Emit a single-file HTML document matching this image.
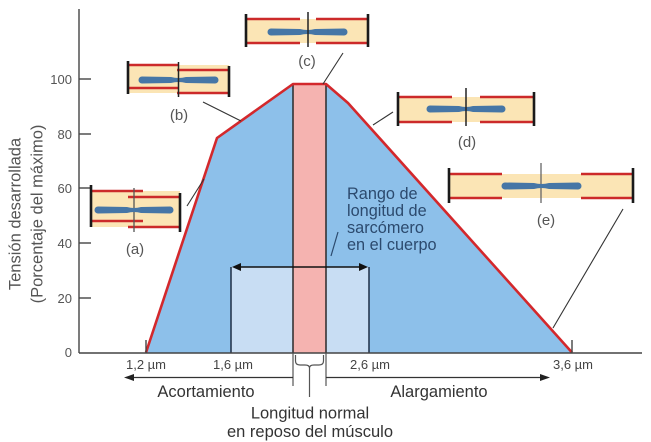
<!DOCTYPE html>
<html><head><meta charset="utf-8"><style>
html,body{margin:0;padding:0;background:#fff;}
svg{display:block;}
text{font-family:"Liberation Sans",Arial,sans-serif;}
</style></head><body>
<svg width="651" height="442" viewBox="0 0 651 442" xmlns="http://www.w3.org/2000/svg">
<rect width="651" height="442" fill="#fff"/>
<!-- blue area -->
<polygon points="146,352.5 217,138 293,84 326,84 348,103 572,352.5" fill="#8dc0ea"/>
<!-- light rect -->
<rect x="231" y="267" width="138" height="85.5" fill="#c8ddf3"/>
<!-- pink band -->
<rect x="293" y="84" width="33" height="268.5" fill="#f5b3b0"/>
<line x1="293" y1="84" x2="293" y2="353" stroke="#2a2a2a" stroke-width="1.5"/>
<line x1="326" y1="84" x2="326" y2="353" stroke="#2a2a2a" stroke-width="1.5"/>
<line x1="231" y1="267" x2="231" y2="353" stroke="#1d2d44" stroke-width="1.5"/>
<line x1="369" y1="267" x2="369" y2="353" stroke="#1d2d44" stroke-width="1.5"/>
<!-- double arrow -->
<line x1="236" y1="267" x2="364" y2="267" stroke="#111" stroke-width="1.6"/>
<polygon points="232,267 241,263 241,271" fill="#111"/>
<polygon points="368,267 359,263 359,271" fill="#111"/>
<!-- red curve -->
<polyline points="146,352.5 217,138 293,84 326,84 348,103 572,352.5" fill="none" stroke="#d3282c" stroke-width="2.6" stroke-linejoin="round"/>
<!-- axes -->
<line x1="79" y1="9" x2="79" y2="353" stroke="#444" stroke-width="1.4"/>
<line x1="79" y1="353" x2="642" y2="353" stroke="#444" stroke-width="1.4"/>
<g stroke="#444" stroke-width="1.4">
<line x1="79" y1="79" x2="91" y2="79"/>
<line x1="79" y1="134" x2="91" y2="134"/>
<line x1="79" y1="188" x2="91" y2="188"/>
<line x1="79" y1="243" x2="91" y2="243"/>
<line x1="79" y1="298" x2="91" y2="298"/>
<line x1="146" y1="340" x2="146" y2="353"/>
<line x1="572" y1="340" x2="572" y2="353"/>
</g>
<g font-size="13" fill="#555" text-anchor="end">
<text x="72" y="84">100</text>
<text x="72" y="139">80</text>
<text x="72" y="193">60</text>
<text x="72" y="248">40</text>
<text x="72" y="303">20</text>
<text x="72" y="357">0</text>
</g>
<g font-size="16.5" fill="#555" text-anchor="middle">
<text transform="translate(20.5,214) rotate(-90)">Tensión desarrollada</text>
<text transform="translate(42.5,214) rotate(-90)">(Porcentaje del máximo)</text>
</g>
<!-- µm labels -->
<g font-size="13" fill="#444" text-anchor="middle">
<text x="146" y="369">1,2 µm</text>
<text x="233" y="369">1,6 µm</text>
<text x="370" y="369">2,6 µm</text>
<text x="573" y="369">3,6 µm</text>
</g>
<!-- bottom verticals, brace -->
<g stroke="#555" stroke-width="1.2" fill="none">
<line x1="293" y1="353" x2="293" y2="386"/>
<line x1="326" y1="353" x2="326" y2="386"/>
<path d="M295.5,355 L295.5,361 Q295.5,365 300,365 L305,365 Q309.5,365 309.5,368 Q309.5,365 314,365 L319,365 Q323.5,365 323.5,361 L323.5,355"/>
<line x1="309.5" y1="368" x2="309.5" y2="397"/>
</g>
<!-- long arrows -->
<g stroke="#333" stroke-width="1.3">
<line x1="130" y1="377.5" x2="293" y2="377.5"/>
<line x1="326" y1="377.5" x2="544" y2="377.5"/>
</g>
<polygon points="124,377.5 134,374 134,381" fill="#222"/>
<polygon points="550,377.5 540,374 540,381" fill="#222"/>
<g font-size="16.5" fill="#333" text-anchor="middle">
<text x="206" y="397">Acortamiento</text>
<text x="439" y="397">Alargamiento</text>
<text x="310" y="418.5">Longitud normal</text>
<text x="310" y="437">en reposo del músculo</text>
</g>
<!-- Rango text -->
<g font-size="16.3" fill="#2c4a6e">
<text x="347" y="199">Rango de</text>
<text x="347" y="216">longitud de</text>
<text x="347" y="233">sarcómero</text>
<text x="347" y="250">en el cuerpo</text>
</g>
<line x1="338" y1="232" x2="331" y2="256" stroke="#2c4a6e" stroke-width="1.2"/>
<!-- leader lines -->
<g stroke="#333" stroke-width="1.1">
<line x1="187" y1="206" x2="204" y2="179"/>
<line x1="203" y1="102" x2="241" y2="121"/>
<line x1="323" y1="84" x2="343" y2="53"/>
<line x1="373" y1="125" x2="393" y2="112"/>
<line x1="623" y1="209" x2="553" y2="328"/>
</g>
<!-- labels -->
<g font-size="15" fill="#555" text-anchor="middle">
<text x="135" y="254">(a)</text>
<text x="179" y="120">(b)</text>
<text x="307" y="66">(c)</text>
<text x="467" y="147">(d)</text>
<text x="546" y="225">(e)</text>
</g>

<!-- sarcomere (a) -->
<rect x="91" y="191" width="89" height="36" fill="#fbe5b5"/>
<g stroke="#cc2a2a" stroke-width="2.4">
<line x1="91" y1="191" x2="143" y2="191"/>
<line x1="128" y1="197" x2="180" y2="197"/>
<line x1="91" y1="221" x2="143" y2="221"/>
<line x1="128" y1="227" x2="180" y2="227"/>
</g>
<line x1="134" y1="188" x2="134" y2="232" stroke="#555" stroke-width="1.3"/>
<path d="M98,206.5 L127,207 Q134,209 141,207 L170,206.5 A3.5,3.5 0 0 1 170,213.5 L141,213 Q134,211 127,213 L98,213.5 A3.5,3.5 0 0 1 98,206.5 Z" fill="#4676a6"/>
<line x1="91" y1="185" x2="91" y2="227" stroke="#1a1a1a" stroke-width="2.6"/>
<line x1="180" y1="193" x2="180" y2="232" stroke="#1a1a1a" stroke-width="2.6"/>

<!-- sarcomere (b) -->
<rect x="128" y="65" width="101" height="28" fill="#fbe5b5"/>
<g stroke="#cc2a2a" stroke-width="2.4">
<line x1="128" y1="65" x2="179" y2="65"/>
<line x1="177" y1="70" x2="229" y2="70"/>
<line x1="128" y1="88" x2="179" y2="88"/>
<line x1="177" y1="93" x2="229" y2="93"/>
</g>
<path d="M142,76.5 L171,77 Q178.5,79 186,77 L215,76.5 A3.5,3.5 0 0 1 215,83.5 L186,83 Q178.5,81 171,83 L142,83.5 A3.5,3.5 0 0 1 142,76.5 Z" fill="#4676a6"/>
<line x1="178.5" y1="62" x2="178.5" y2="97" stroke="#222" stroke-width="1.5"/>
<line x1="128" y1="61" x2="128" y2="94" stroke="#1a1a1a" stroke-width="2.6"/>
<line x1="229" y1="66" x2="229" y2="97" stroke="#1a1a1a" stroke-width="2.6"/>

<!-- sarcomere (c) -->
<rect x="246" y="19" width="122" height="24" fill="#fbe5b5"/>
<g stroke="#cc2a2a" stroke-width="2.4">
<line x1="246" y1="19" x2="300" y2="19"/>
<line x1="316" y1="19" x2="368" y2="19"/>
<line x1="246" y1="43" x2="300" y2="43"/>
<line x1="316" y1="43" x2="368" y2="43"/>
</g>
<path d="M271,28.5 L300,29 Q307.5,31 315,29 L344,28.5 A3.5,3.5 0 0 1 344,35.5 L315,35 Q307.5,33 300,35 L271,35.5 A3.5,3.5 0 0 1 271,28.5 Z" fill="#4676a6"/>
<line x1="308" y1="12" x2="308" y2="47" stroke="#222" stroke-width="1.5"/>
<line x1="246" y1="14" x2="246" y2="47" stroke="#1a1a1a" stroke-width="2.6"/>
<line x1="368" y1="14" x2="368" y2="47" stroke="#1a1a1a" stroke-width="2.6"/>

<!-- sarcomere (d) -->
<rect x="398" y="97" width="136" height="25" fill="#fbe5b5"/>
<g stroke="#cc2a2a" stroke-width="2.4">
<line x1="398" y1="97" x2="452" y2="97"/>
<line x1="480" y1="97" x2="534" y2="97"/>
<line x1="398" y1="122" x2="452" y2="122"/>
<line x1="480" y1="122" x2="534" y2="122"/>
</g>
<path d="M430,105.5 L459,106 Q466,108 473,106 L502,105.5 A3.5,3.5 0 0 1 502,112.5 L473,112 Q466,110 459,112 L430,112.5 A3.5,3.5 0 0 1 430,105.5 Z" fill="#4676a6"/>
<line x1="466" y1="88" x2="466" y2="126" stroke="#222" stroke-width="1.5"/>
<line x1="398" y1="92" x2="398" y2="126" stroke="#1a1a1a" stroke-width="2.6"/>
<line x1="534" y1="92" x2="534" y2="126" stroke="#1a1a1a" stroke-width="2.6"/>

<!-- sarcomere (e) -->
<rect x="449" y="174" width="184" height="24" fill="#fbe5b5"/>
<g stroke="#cc2a2a" stroke-width="2.4">
<line x1="449" y1="174" x2="502" y2="174"/>
<line x1="581" y1="174" x2="633" y2="174"/>
<line x1="449" y1="198" x2="502" y2="198"/>
<line x1="581" y1="198" x2="633" y2="198"/>
</g>
<line x1="541" y1="163" x2="541" y2="203" stroke="#666" stroke-width="1.3"/>
<path d="M505,182.5 L534,183 Q541.5,185 549,183 L578,182.5 A3.5,3.5 0 0 1 578,189.5 L549,189 Q541.5,187 534,189 L505,189.5 A3.5,3.5 0 0 1 505,182.5 Z" fill="#4676a6"/>
<line x1="449" y1="168" x2="449" y2="203" stroke="#1a1a1a" stroke-width="2.6"/>
<line x1="633" y1="168" x2="633" y2="203" stroke="#1a1a1a" stroke-width="2.6"/>
</svg>
</body></html>
